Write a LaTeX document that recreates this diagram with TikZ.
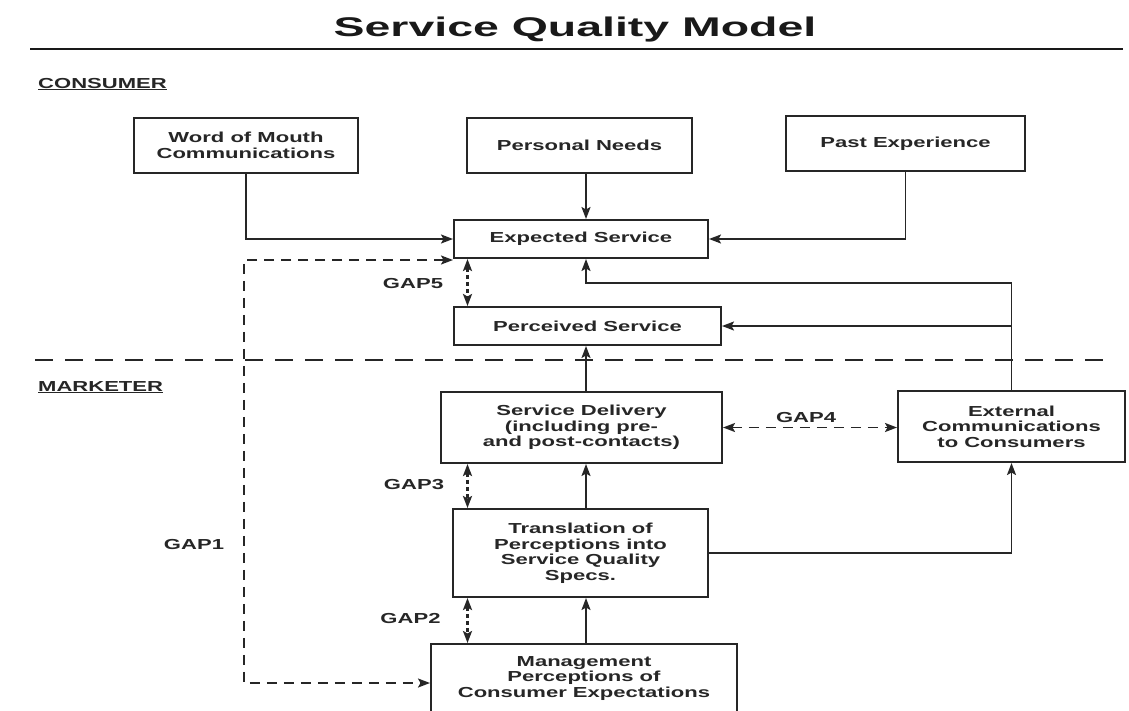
\documentclass[tikz,border=0pt]{standalone}
\usepackage{fontspec}
\newfontfamily\diagfont{Liberation Sans}[FakeStretch=1.52]
\newfontfamily\headfont{Liberation Sans}[FakeStretch=1.72]
\usetikzlibrary{arrows.meta}
\begin{document}
\begin{tikzpicture}[x=1pt,y=-1pt,
  box/.style={draw=black!85, line width=2pt, align=center, inner sep=0pt,
    text=black!85, font=\diagfont\bfseries\fontsize{14.5}{15.5}\selectfont},
  lbl/.style={text=black!85, inner sep=0pt,
    font=\diagfont\bfseries\fontsize{14.5}{15.5}\selectfont},
  tipa/.tip={Stealth[length=12pt,width=9pt,inset=2.5pt]},
  flow/.style={draw=black!85, line width=1.9pt, -tipa},
  gapdot/.style={draw=black!85, line width=2.2pt, dash pattern=on 4pt off 3pt, tipa-tipa},
  gapdash/.style={draw=black!85, line width=1.9pt, dash pattern=on 10pt off 7pt, tipa-tipa},
  divider/.style={draw=black!85, line width=1.8pt, dash pattern=on 18pt off 12pt},
]
\useasboundingbox (0,0) rectangle (1129,710);
\clip (0,0) rectangle (1129,710);
\fill[white] (0,0) rectangle (1129,710);

% heading and rule
\node[anchor=base, text=black!90, inner sep=0pt,
  font=\headfont\bfseries\fontsize{27}{30}\selectfont] (title) at (575,36) {Service Quality Model};
\draw[black!90, line width=2.8pt] (30,49) coordinate (ruleL) -- (1123,49) coordinate (ruleR);

% section labels
\node[lbl, anchor=base west] (consumer) at (38,88) {\underline{CONSUMER}};
\node[lbl, anchor=base west] (marketer) at (38,391) {\underline{MARKETER}};

% consumer / marketer divider
\draw[divider] (35,360) coordinate (divL) -- (1107,360) coordinate (divR);

% boxes
\node[box, minimum width=224pt, minimum height=55pt] (WoM) at (246,145.5) {Word of Mouth\\Communications};
\node[box, minimum width=225pt, minimum height=55pt] (PN) at (579.5,145.5) {Personal Needs};
\node[box, minimum width=239pt, minimum height=55pt] (PE) at (905.5,143.5) {Past Experience};
\node[box, minimum width=254pt, minimum height=38pt] (ES) at (581,239) {Expected Service};
\node[box, minimum width=267pt, minimum height=38pt] (PS) at (587.5,326) {Perceived Service};
\node[box, minimum width=281pt, minimum height=71pt] (SD) at (581.5,427.5) {Service Delivery\\(including pre-\\and post-contacts)};
\node[box, minimum width=227pt, minimum height=71pt] (EX) at (1011.5,426.5) {External\\Communications\\to Consumers};
\node[box, minimum width=255pt, minimum height=88pt] (TR) at (580.5,553) {Translation of\\Perceptions into\\Service Quality\\Specs.};
\node[box, minimum width=306pt, minimum height=69pt] (MG) at (584,678.5) {Management\\Perceptions of\\Consumer Expectations};

% reference columns for the connectors
\coordinate (spine) at (586,0);
\coordinate (gapx) at (467.5,0);
\coordinate (fbcorner) at (586,283);
\coordinate (gapone) at (244,683);

% solid flows
\draw[flow] (WoM.south) |- (ES.west);
\draw[flow] (PN.south -| spine) -- (ES.north -| spine);
\draw[flow] (PE.south) |- (ES.east);
\draw[flow] (EX.north) |- (fbcorner) -- (ES.south -| fbcorner);
\draw[flow] (EX.north |- PS.east) -- (PS.east);
\draw[flow] (SD.north -| spine) -- (PS.south -| spine);
\draw[flow] (TR.north -| spine) -- (SD.south -| spine);
\draw[flow] (MG.north -| spine) -- (TR.south -| spine);
\draw[flow] (TR.east) -| (EX.south);

% gaps
\draw[gapdot] (ES.south -| gapx) -- (PS.north -| gapx);
\draw[gapdot] (SD.south -| gapx) -- (TR.north -| gapx);
\draw[gapdot] (TR.south -| gapx) -- (MG.north -| gapx);
\draw[gapdash] (SD.east) -- (EX.west |- SD.east);
\draw[gapdash] ([yshift=-1pt]ES.south west) -- ([yshift=-1pt]ES.south west -| gapone) -- (gapone) -- (gapone -| MG.west);

\node[lbl] (gap5) at (413,284) {GAP5};
\node[lbl] (gap4) at (806,417) {GAP4};
\node[lbl] (gap3) at (414,485) {GAP3};
\node[lbl] (gap2) at (410.5,618) {GAP2};
\node[lbl] (gap1) at (194,544) {GAP1};
\end{tikzpicture}
\end{document}
